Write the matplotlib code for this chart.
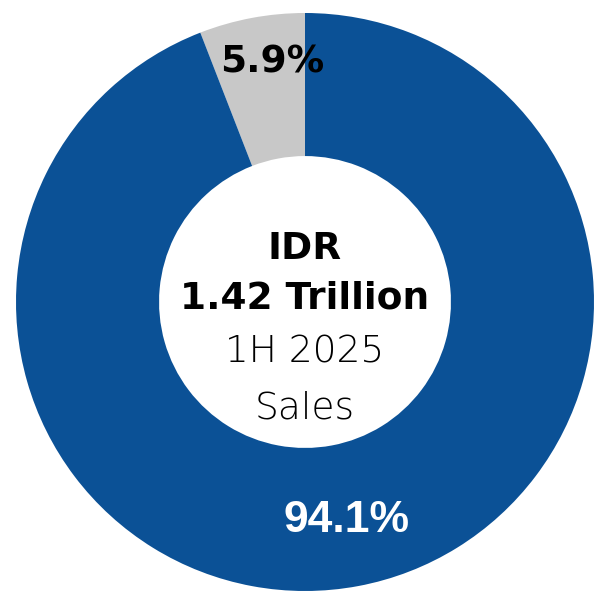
import numpy as np
import matplotlib.pyplot as plt

segments = ['Other', 'Main']
shares = [5.9, 94.1]
colors = ['#C8C8C8', '#0B5196']
label_colors = ['black', 'white']
center_lines = ['IDR', '1.42 Trillion', '1H 2025', 'Sales']

fig = plt.figure(figsize=(5.96, 5.97), dpi=100)
cx, cy, r = 305, 597 - 302, 289
ax = fig.add_axes([(cx - r) / 596, (cy - r) / 597, 2 * r / 596, 2 * r / 597])

wedges, _ = ax.pie(shares, colors=colors, startangle=90, counterclock=True,
                   radius=1.0, wedgeprops=dict(width=0.495, linewidth=0))
ax.set_xlim(-1, 1)
ax.set_ylim(-1, 1)
ax.axis('off')

# percentage labels near the middle angle of each wedge
label_r = [0.835, 0.77]
angle_shift = [-2.8, 0.0]
label_font = [dict(family='DejaVu Sans', size=27, weight='bold'),
              dict(family='Liberation Sans', size=32, weight='bold')]
for w, s, lr, da, lc, lf in zip(wedges, shares, label_r, angle_shift,
                                label_colors, label_font):
    mid = np.deg2rad((w.theta1 + w.theta2) / 2 + da)
    ax.text(lr * np.cos(mid), lr * np.sin(mid), f'{s}%', color=lc,
            ha='center', va='center', **lf)

ys = [0.185, 0.012, -0.172, -0.367]
weights = ['bold', 'bold', 'light', 'light']
for txt, y, wt in zip(center_lines, ys, weights):
    ax.text(0, y, txt, ha='center', va='center', fontsize=27,
            fontweight=wt, family='DejaVu Sans', color='black')

fig.savefig('out.png', dpi=100)
